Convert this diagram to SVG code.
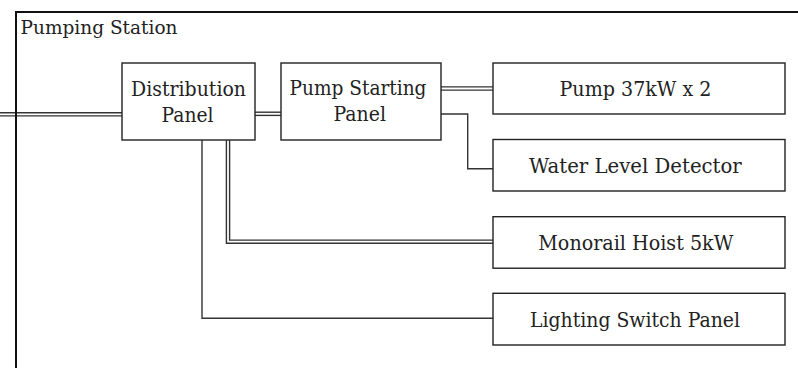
<svg xmlns="http://www.w3.org/2000/svg" width="798" height="368" viewBox="0 0 798 368">
<style>
.box{fill:#fff;stroke:#222;stroke-width:1.4}
.t{font-family:"DejaVu Serif","Liberation Serif",serif;font-size:20px;fill:#222;text-anchor:middle}
.dbo{fill:none;stroke:#333;stroke-width:4.6;stroke-linejoin:miter}
.dbi{fill:none;stroke:#fff;stroke-width:1.8;stroke-linejoin:miter}
.sg{fill:none;stroke:#333;stroke-width:1.4}
</style>
<rect x="0" y="0" width="798" height="368" fill="#fff"/>
<g id="connectors">
<path class="dbo" d="M0,114.3 H122"/>
<path class="dbi" d="M0,114.3 H122"/>
<path class="dbo" d="M255,113.8 H281"/>
<path class="dbi" d="M255,113.8 H281"/>
<path class="dbo" d="M441,88.5 H493"/>
<path class="dbi" d="M441,88.5 H493"/>
<path class="dbo" d="M228,140 V241.7 H493"/>
<path class="dbi" d="M228,140 V241.7 H493"/>
<path class="sg" d="M441,114 H467.7 V168.7 H493"/>
<path class="sg" d="M202,140 V318.3 H493"/>
</g>
<g id="frame">
<rect x="16" y="12" width="800" height="400" fill="none" stroke="#111" stroke-width="2"/>
<text x="20.5" y="33.5" font-family="DejaVu Serif, Liberation Serif, serif" font-size="18" fill="#222" textLength="157" lengthAdjust="spacingAndGlyphs">Pumping Station</text>
</g>
<g id="distribution-panel">
<rect class="box" x="122" y="63" width="133" height="77"/>
<text class="t" x="188.5" y="96.3" textLength="115" lengthAdjust="spacingAndGlyphs">Distribution</text>
<text class="t" x="187.5" y="121.7" textLength="52" lengthAdjust="spacingAndGlyphs">Panel</text>
</g>
<g id="pump-starting-panel">
<rect class="box" x="281" y="63" width="160" height="77"/>
<text class="t" x="358" y="95.3" textLength="137" lengthAdjust="spacingAndGlyphs">Pump Starting</text>
<text class="t" x="359.7" y="121" textLength="52.5" lengthAdjust="spacingAndGlyphs">Panel</text>
</g>
<g id="pump">
<rect class="box" x="493" y="63" width="292" height="51"/>
<text class="t" x="635.5" y="96" textLength="152" lengthAdjust="spacingAndGlyphs">Pump 37kW x 2</text>
</g>
<g id="water-level-detector">
<rect class="box" x="493" y="139.5" width="292" height="51.5"/>
<text class="t" x="635.4" y="172.7" textLength="212.7" lengthAdjust="spacingAndGlyphs">Water Level Detector</text>
</g>
<g id="monorail-hoist">
<rect class="box" x="493" y="216.7" width="292" height="51.5"/>
<text class="t" x="635.8" y="250" textLength="195" lengthAdjust="spacingAndGlyphs">Monorail Hoist 5kW</text>
</g>
<g id="lighting-switch-panel">
<rect class="box" x="493" y="293.3" width="292" height="51.7"/>
<text class="t" x="635" y="326.7" textLength="210" lengthAdjust="spacingAndGlyphs">Lighting Switch Panel</text>
</g>
</svg>
